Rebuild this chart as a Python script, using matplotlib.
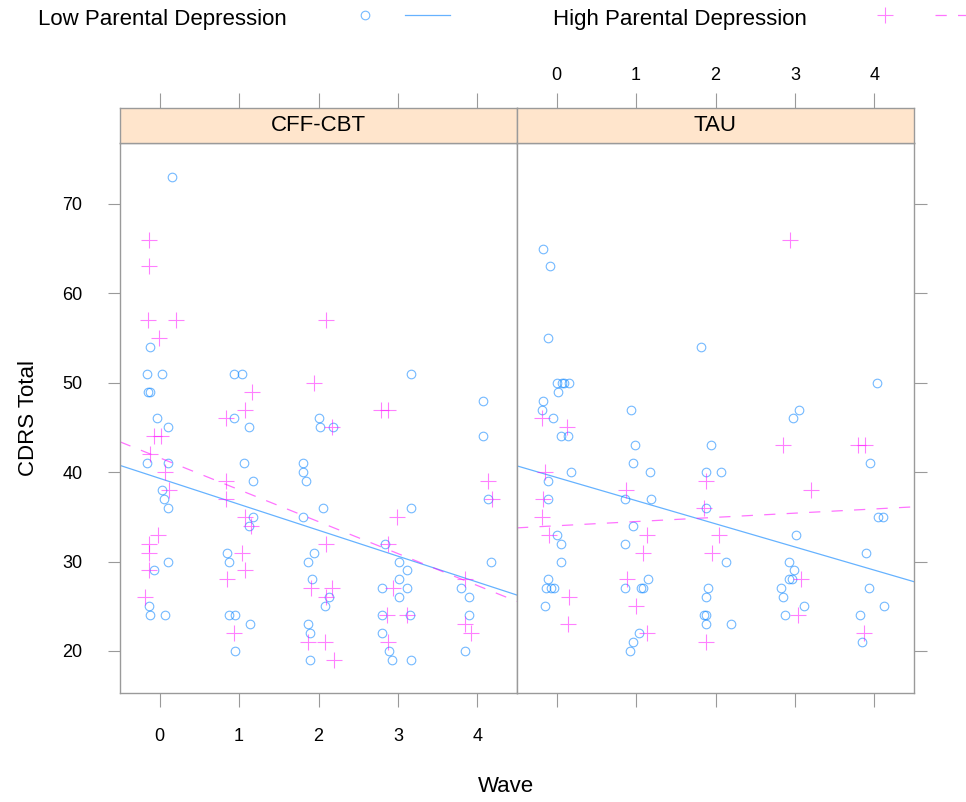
import numpy as np
import matplotlib
matplotlib.use('Agg')
import matplotlib.pyplot as plt
from matplotlib.lines import Line2D

plt.rcParams['font.family'] = ['Liberation Sans', 'DejaVu Sans']

panels = ['CFF-CBT', 'TAU']
groups = ['Low Parental Depression', 'High Parental Depression']
wave_ticks = [0, 1, 2, 3, 4]
cdrs_ticks = [20, 30, 40, 50, 60, 70]

# CFF-CBT, low parental depression (jittered wave, CDRS total)
cff_low_wave = [0.155, -0.12, -0.16, 0.03, -0.15, -0.12, -0.03, 0.11, -0.16, 0.10,
                0.03, 0.05, 0.11, 0.11, -0.07, -0.13, -0.12, 0.07,
                0.94, 1.04, 0.93, 1.12, 1.06, 1.18, 1.18, 1.12, 0.85, 0.87, 0.87, 0.95, 1.14, 0.95,
                2.00, 2.02, 2.18, 1.81, 1.81, 1.84, 1.81, 2.06, 1.94, 1.87, 1.92, 2.13, 2.08,
                1.87, 1.89, 1.89,
                3.17, 3.17, 2.84, 3.02, 3.12, 3.02, 2.80, 3.11, 3.02, 2.80, 3.15, 2.80, 2.89,
                2.92, 3.17,
                4.07, 4.07, 4.13, 4.17, 3.80, 3.90, 3.90, 3.85]
cff_low_cdrs = [73, 54, 51, 51, 49, 49, 46, 45, 41, 41,
                38, 37, 36, 30, 29, 25, 24, 24,
                51, 51, 46, 45, 41, 39, 35, 34, 31, 30, 24, 24, 23, 20,
                46, 45, 45, 41, 40, 39, 35, 36, 31, 30, 28, 26, 25,
                23, 22, 19,
                51, 36, 32, 30, 29, 28, 27, 27, 26, 24, 24, 22, 20,
                19, 19,
                48, 44, 37, 30, 27, 26, 24, 20]

# CFF-CBT, high parental depression
cff_high_wave = [-0.13, -0.14, -0.15, 0.20, -0.01, -0.07, 0.02, -0.12, 0.07, 0.12,
                 -0.02, -0.13, -0.14, -0.13, -0.18,
                 1.16, 0.84, 1.07, 0.83, 0.84, 1.07, 1.15, 1.04, 1.07, 0.85, 0.93,
                 1.94, 2.10, 2.17, 2.09, 1.90, 2.17, 2.10, 1.87, 2.08, 2.19,
                 2.79, 2.87, 2.99, 2.87, 2.94, 2.86, 3.12, 2.87,
                 4.14, 4.19, 3.85, 3.84, 3.92]
cff_high_cdrs = [66, 63, 57, 57, 55, 44, 44, 42, 40, 38,
                 33, 32, 31, 29, 26,
                 49, 46, 47, 39, 37, 35, 34, 31, 29, 28, 22,
                 50, 57, 45, 32, 27, 27, 26, 21, 21, 19,
                 47, 47, 35, 32, 27, 24, 24, 21,
                 39, 37, 28, 23, 22]

# TAU, low parental depression
tau_low_wave = [-0.17, -0.09, -0.11, 0.00, 0.07, 0.09, 0.15, 0.02, -0.17, -0.19,
                -0.05, 0.06, 0.14, 0.18, -0.11, -0.11, 0.00, 0.06, 0.06, -0.11,
                -0.13, -0.07, -0.03, -0.15,
                0.94, 0.98, 0.96, 1.17, 0.86, 1.19, 0.96, 0.86, 1.15, 0.86, 1.06, 1.09,
                1.04, 0.96, 0.92,
                1.82, 1.94, 1.88, 2.07, 1.88, 2.13, 1.90, 1.88, 1.86, 1.88, 1.88, 2.20,
                3.05, 2.97, 3.01, 2.92, 2.99, 2.93, 2.96, 2.83, 2.85, 3.11, 2.88,
                4.03, 3.95, 4.05, 4.11, 3.89, 3.93, 4.12, 3.82, 3.85]
tau_low_cdrs = [65, 63, 55, 50, 50, 50, 50, 49, 48, 47,
                46, 44, 44, 40, 39, 37, 33, 32, 30, 28,
                27, 27, 27, 25,
                47, 43, 41, 40, 37, 37, 34, 32, 28, 27, 27, 27,
                22, 21, 20,
                54, 43, 40, 40, 36, 30, 27, 26, 24, 24, 23, 23,
                47, 46, 33, 30, 29, 28, 28, 27, 26, 25, 24,
                50, 41, 35, 35, 31, 27, 25, 24, 21]

# TAU, high parental depression
tau_high_wave = [-0.19, 0.13, -0.15, -0.17, -0.19, -0.10, 0.15, 0.14,
                 0.87, 1.14, 1.09, 0.88, 1.00, 1.14,
                 1.88, 1.86, 2.04, 1.95, 1.88,
                 2.94, 2.85, 3.20, 3.08, 3.04,
                 3.79, 3.88, 3.87]
tau_high_cdrs = [46, 45, 40, 37, 35, 33, 26, 23,
                 38, 33, 31, 28, 25, 22,
                 39, 36, 33, 31, 21,
                 66, 43, 38, 28, 24,
                 43, 43, 22]

# regression lines per panel and group: (intercept, slope)
cff_low_fit = (39.3, -2.9)
cff_high_fit = (41.6, -3.57)
tau_low_fit = (39.4, -2.59)
tau_high_fit = (34.0, 0.47)

W, H = 966, 802
blue = '#0080ff'
pink = '#ff00ff'
frame = '#9a9a9a'
strip_bg = '#ffe5cc'


def px_box(x0, y0, x1, y1):
    return [x0 / W, 1 - y1 / H, (x1 - x0) / W, (y1 - y0) / H]


def draw_group(ax, wave, cdrs, fit, color, marker, ls):
    if marker == 'o':
        ax.plot(wave, cdrs, 'o', mfc='none', mec=color, ms=6.2, mew=0.8,
                alpha=0.55, clip_on=False)
    else:
        ax.plot(wave, cdrs, '+', color=color, ms=11, mew=0.8, alpha=0.5,
                clip_on=False)
    xs = np.array(ax.get_xlim())
    alpha = 0.6 if color == blue else 0.55
    ax.plot(xs, fit[0] + fit[1] * xs, color=color, lw=0.9, linestyle=ls,
            alpha=alpha)


fig = plt.figure(figsize=(W / 100, H / 100), dpi=100)

data = [
    [(cff_low_wave, cff_low_cdrs, cff_low_fit), (cff_high_wave, cff_high_cdrs, cff_high_fit)],
    [(tau_low_wave, tau_low_cdrs, tau_low_fit), (tau_high_wave, tau_high_cdrs, tau_high_fit)],
]

panel_x = [(120, 517), (517, 914)]
for i, name in enumerate(panels):
    x0, x1 = panel_x[i]
    ax = fig.add_axes(px_box(x0, 143, x1, 693))
    ax.set_xlim(-0.5, 4.5)
    ax.set_ylim(15.3, 76.8)
    for sp in ax.spines.values():
        sp.set_color(frame)
        sp.set_linewidth(1.0)
    ax.set_xticks(wave_ticks)
    ax.set_yticks(cdrs_ticks)
    ax.tick_params(direction='out', color=frame, width=0.8, labelsize=13)
    ax.tick_params(axis='x', length=10, pad=15, top=False, labelbottom=(i == 0))
    if i == 0:
        ax.tick_params(axis='y', length=9, pad=18, left=True, right=False)
    else:
        ax.tick_params(axis='y', length=9, left=False, right=True,
                       labelleft=False, labelright=False)

    for (wave, cdrs, fit), color, marker, ls in zip(
            data[i], [blue, pink], ['o', '+'], ['-', (0, (9, 9))]):
        draw_group(ax, wave, cdrs, fit, color, marker, ls)

    # strip above each panel
    sax = fig.add_axes(px_box(x0, 108, x1, 143))
    sax.set_facecolor(strip_bg)
    sax.set_xlim(-0.5, 4.5)
    sax.set_ylim(0, 1)
    sax.set_yticks([])
    sax.set_xticks(wave_ticks)
    for sp in sax.spines.values():
        sp.set_color(frame)
        sp.set_linewidth(1.0)
    sax.tick_params(axis='x', direction='out', color=frame, width=0.8, length=11,
                    top=True, bottom=False, labeltop=(i == 1), labelbottom=False,
                    labelsize=13, pad=6)
    sax.text(0.5, 0.5, name, transform=sax.transAxes, ha='center', va='center',
             fontsize=16)

# key at the top
ky = 1 - 19 / H
fig.text(38 / W, ky, groups[0], ha='left', va='center', fontsize=16)
fig.add_artist(Line2D([365 / W], [1 - 15 / H], marker='o', mfc='none', mec=blue,
                      ms=6.2, mew=0.8, alpha=0.55, transform=fig.transFigure))
fig.add_artist(Line2D([405 / W, 450 / W], [1 - 15 / H] * 2, color=blue, lw=0.9,
                      alpha=0.6, transform=fig.transFigure))
fig.text(553 / W, ky, groups[1], ha='left', va='center', fontsize=16)
fig.add_artist(Line2D([885 / W], [1 - 15 / H], marker='+', color=pink, ms=11,
                      mew=0.8, alpha=0.5, transform=fig.transFigure))
fig.add_artist(Line2D([935 / W, 990 / W], [1 - 15 / H] * 2, color=pink, lw=0.9,
                      alpha=0.55, linestyle=(0, (9, 9)), transform=fig.transFigure))

fig.text(28 / W, 1 - 418 / H, 'CDRS Total', rotation=90, ha='center', va='center',
         fontsize=16)
fig.text(506 / W, 1 - 787 / H, 'Wave', ha='center', va='center', fontsize=16)

fig.savefig('out.png', dpi=100)
